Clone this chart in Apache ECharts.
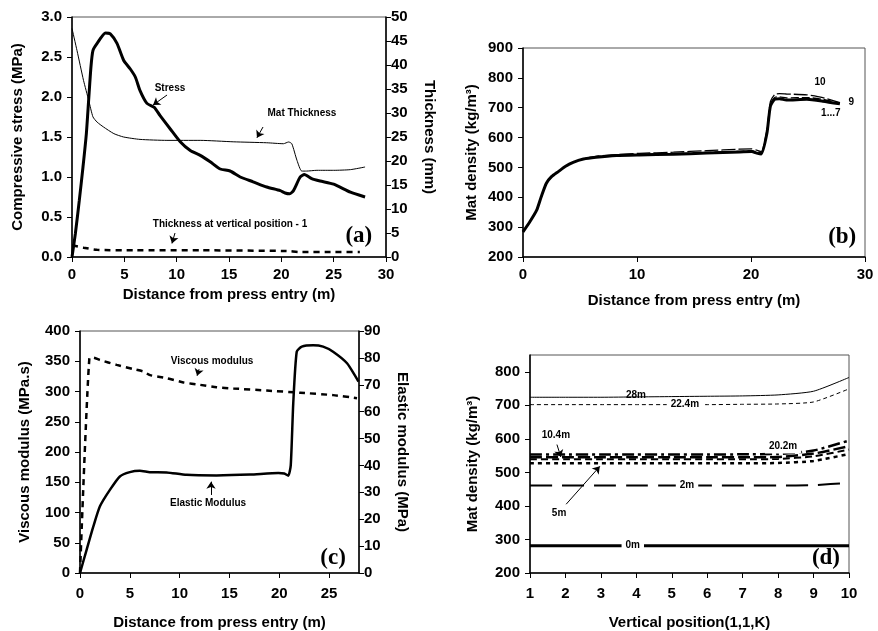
<!DOCTYPE html>
<html>
<head>
<meta charset="utf-8">
<script src="https://cdn.jsdelivr.net/npm/echarts@6/dist/echarts.min.js"></script>
<style>html,body{margin:0;padding:0;background:#fff}#c{width:878px;height:631px}</style>
</head>
<body>
<div id="c"></div>
<script>
// ---------- Panel (a) ----------
const aStressX = [0,0.32,0.7,1.05,1.37,1.59,1.81,2.0,2.4,3.2,3.66,4.3,4.93,5.57,6.05,6.5,7.16,7.86,8.4,9.39,10.34,11.3,12.25,13.2,14.16,15.1,16.07,17.3,18.6,19.9,20.36,20.8,21.16,21.8,22.2,22.9,23.7,25.0,26.6,28.0];
const aStress  = [0,0.29,0.71,1.125,1.54,1.96,2.375,2.58,2.67,2.80,2.79,2.67,2.46,2.35,2.25,2.08,1.92,1.87,1.77,1.6,1.44,1.33,1.27,1.19,1.10,1.075,1.0,0.94,0.875,0.83,0.8,0.79,0.83,1.0,1.03,0.98,0.95,0.91,0.81,0.75];
const aMatX = [0,0.48,1.1,1.6,2.0,2.4,3.0,4.0,4.93,6.5,9.07,12.25,15.4,18.6,20.2,20.7,21.0,21.5,21.95,22.4,23.4,25,26.6,28];
const aMat  = [47.6,43,36.8,32.6,29.2,28.1,27.1,25.7,25.0,24.5,24.3,24.3,24.0,23.8,23.6,23.96,23.6,20.1,17.9,17.9,18.06,18.06,18.2,18.75];
const aVpX = [0,1.1,2.4,5.9,12.25,20.5,21.8,25,27.5];
const aVp  = [2.43,1.94,1.5,1.39,1.39,1.25,1.04,1.04,1.04];

// ---------- Panel (b) ----------
const bX    = [0,0.6,1.2,1.6,2.05,2.5,3.1,3.7,4.4,5.3,6.4,8.2,10.2,13.2,16.1,19,20.05,20.5,20.9,21.4,21.7,22.1,22.5,23.1,24.9,26.3,27.8];
const b1to7 = [284,318,357,402,447,469,486,503,517,528,534,540,542,544,548,552,553,548,545,615,705,729,730,726,728,722,713];
const b9    = [284,318,357,402,447,469,486,503,517,529,536,541,544,546,550,554,556,552,549,620,712,735,736,733,734,728,715];
const b10   = [284,318,357,402,447,469,486,503,517,529,537,543,547,551,556,561,562,558,553,625,720,745,747,746,743,734,717];

// ---------- Panel (c) ----------
const cViscX = [0,0.94,1.34,2.0,3.68,5.35,6.36,7.03,8.7,10.37,12.05,13.7,15.4,18.74,22.1,25.4,27.8];
const cVisc  = [0,355,356,352,344,337,333,327,322,315,311,307,305,301.5,298,294,289];
const cElX = [0,0.67,1.34,2.0,3.0,4.0,5.0,6.0,7.0,8.7,10.7,13.7,17.07,19.9,20.5,20.9,21.15,21.4,21.75,22.26,23.4,24.4,25.4,26.8,27.95];
const cEl  = [0,8.7,17.3,24.8,30.9,35.9,37.5,38.0,37.5,37.4,36.5,36.3,36.6,37.2,37.0,36.2,40,63,82.3,84.2,84.7,84.2,82.3,78,71.2];

// ---------- Panel (d) ----------
const dK    = [1,2,3,4,5,6,7,8,9,10];
const d0m   = [281,281,281,281,281,281,281,281,281,281];
const d2m   = [461,461,461,461,461,461,461,461,462,469];
const d5m   = [527,527,527,527,527,527,527,528,534,555];
const d10m  = [539,539,539,539,539,539,539,540,548,568];
const d15m  = [545,545,545,545,545,545,545,546,556,578];
const d20m  = [553,553,553,553,553,553,554,555,565,595];
const d22m  = [702,702,702,702,702,702,703,704,710,749];
const d28m  = [724,724,724,725,726,727,728,731,742,783];

const FONT = 'Liberation Sans, Arial, Helvetica, sans-serif';
const SERIF = 'Liberation Serif, Times New Roman, serif';
const zip = (xs, ys) => xs.map((x, i) => [x, ys[i]]);

function notes(items) {
  return {
    silent: true, animation: false, symbol: 'rect', symbolSize: 1,
    itemStyle: { color: 'rgba(0,0,0,0)' },
    data: items.map(n => ({
      coord: [n.x, n.y], name: n.t,
      label: Object.assign({ show: true, position: 'inside', formatter: '{b}', color: '#000',
        fontSize: 10, fontWeight: 'bold', fontFamily: FONT }, n.style || {})
    }))
  };
}
function arrows(list) {
  return {
    silent: true, animation: false, symbol: ['none', 'arrow'], symbolSize: 7,
    lineStyle: { color: '#000', width: 1, type: 'solid' },
    itemStyle: { color: '#000' },
    label: { show: false }, emphasis: { disabled: true },
    data: list.map(a => [{ coord: [a[0], a[1]] }, { coord: [a[2], a[3]] }])
  };
}
const panelTag = { fontFamily: SERIF, fontSize: 23, fontWeight: 'bold' };
const white = { backgroundColor: '#fff', padding: [2, 4] };

function axisBase(extra) {
  return Object.assign({
    type: 'value', nameLocation: 'middle',
    axisLine: { show: true, onZero: false, lineStyle: { color: '#000', width: 1.5 } },
    axisTick: { show: true, inside: false, length: 5, lineStyle: { color: '#000', width: 1 } },
    axisLabel: { color: '#000', fontSize: 15, fontWeight: 'bold', fontFamily: FONT, margin: 10 },
    splitLine: { show: false },
    nameTextStyle: { color: '#000', fontSize: 15, fontWeight: 'bold', fontFamily: FONT }
  }, extra);
}

const grids = [
  { left: 72, top: 17, width: 314, height: 240 },
  { left: 523, top: 48, width: 342, height: 209 },
  { left: 80, top: 331, width: 279, height: 242 },
  { left: 530, top: 355, width: 319, height: 219 }
].map(g => Object.assign(g, { show: true, borderColor: '#555', borderWidth: 1 }));

const xAxes = [
  axisBase({ gridIndex: 0, min: 0, max: 30, interval: 5, name: 'Distance from press entry (m)', nameGap: 30 }),
  axisBase({ gridIndex: 1, min: 0, max: 30, interval: 10, name: 'Distance from press entry (m)', nameGap: 36 }),
  axisBase({ gridIndex: 2, min: 0, max: 28, interval: 5, name: 'Distance from press entry (m)', nameGap: 42 }),
  axisBase({ gridIndex: 3, min: 1, max: 10, interval: 1, name: 'Vertical position(1,1,K)', nameGap: 42 })
];
xAxes[2].axisLabel = Object.assign({}, xAxes[2].axisLabel, { showMaxLabel: false, margin: 13 });
xAxes[3].axisLabel = Object.assign({}, xAxes[3].axisLabel, { margin: 13 });

const yAxes = [
  axisBase({ gridIndex: 0, min: 0, max: 3, interval: 0.5, name: 'Compressive stress (MPa)', nameGap: 47 }),
  axisBase({ gridIndex: 0, position: 'right', min: 0, max: 50, interval: 5, name: 'Thickness (mm)', nameGap: 36, nameRotate: -90 }),
  axisBase({ gridIndex: 1, min: 200, max: 900, interval: 100, name: 'Mat density (kg/m³)', nameGap: 44 }),
  axisBase({ gridIndex: 2, min: 0, max: 400, interval: 50, name: 'Viscous modulus (MPa.s)', nameGap: 48 }),
  axisBase({ gridIndex: 2, position: 'right', min: 0, max: 90, interval: 10, name: 'Elastic modulus (MPa)', nameGap: 36, nameRotate: -90 }),
  axisBase({ gridIndex: 3, min: 200, max: 850, interval: 100, name: 'Mat density (kg/m³)', nameGap: 50 })
];
yAxes[0].axisLabel = Object.assign({}, yAxes[0].axisLabel, { formatter: v => v.toFixed(1) });
yAxes[1].axisLabel = Object.assign({}, yAxes[1].axisLabel, { margin: 5 });
yAxes[4].axisLabel = Object.assign({}, yAxes[4].axisLabel, { margin: 5 });
yAxes[5].axisLabel = Object.assign({}, yAxes[5].axisLabel, { showMaxLabel: false });

function line(xi, yi, data, style, extra) {
  return Object.assign({
    type: 'line', xAxisIndex: xi, yAxisIndex: yi, data: data, showSymbol: false, symbol: 'none',
    smooth: 0.2, silent: true, animation: false,
    lineStyle: Object.assign({ color: '#000', width: 1 }, style)
  }, extra || {});
}

const series = [
  // (a)
  line(0, 0, zip(aStressX, aStress), { width: 3 }, {
    markPoint: notes([
      { t: 'Stress', x: 9.36, y: 2.11 },
      { t: 'Mat Thickness', x: 21.97, y: 1.8 },
      { t: 'Thickness at vertical position - 1', x: 15.1, y: 0.41 },
      { t: '(a)', x: 27.4, y: 0.26, style: panelTag }
    ]),
    markLine: arrows([[9.08, 2.025, 7.74, 1.9], [18.25, 1.625, 17.67, 1.49], [9.84, 0.3, 9.55, 0.17]])
  }),
  line(0, 1, zip(aMatX, aMat), { width: 1 }),
  line(0, 1, zip(aVpX, aVp), { width: 2.5, type: [6, 5] }),
  // (b)
  line(1, 2, zip(bX, b10), { width: 1.3, type: [14, 3] }),
  line(1, 2, zip(bX, b9), { width: 1.3, type: [8, 3] }),
  line(1, 2, zip(bX, b1to7), { width: 3 }, {
    markPoint: notes([
      { t: '10', x: 26.05, y: 786 },
      { t: '9', x: 28.8, y: 719 },
      { t: '1...7', x: 27.0, y: 682 },
      { t: '(b)', x: 28.0, y: 267, style: panelTag }
    ])
  }),
  // (c)
  line(2, 3, zip(cViscX, cVisc), { width: 2.5, type: [6, 5] }, {
    markPoint: notes([
      { t: 'Viscous modulus', x: 13.25, y: 350 },
      { t: 'Elastic Modulus', x: 12.85, y: 116 },
      { t: '(c)', x: 25.4, y: 25, style: panelTag }
    ]),
    markLine: arrows([[11.95, 337, 11.75, 326], [13.15, 129, 13.15, 151]])
  }),
  line(2, 4, zip(cElX, cEl), { width: 2.5 }),
  // (d)
  line(3, 5, zip(dK, d0m), { width: 3 }),
  line(3, 5, zip(dK, d2m), { width: 2, type: [22, 10] }),
  line(3, 5, zip(dK, d5m), { width: 2.5, type: [4, 4] }),
  line(3, 5, zip(dK, d10m), { width: 2, type: [7, 4] }),
  line(3, 5, zip(dK, d15m), { width: 2.5, type: [12, 4] }),
  line(3, 5, zip(dK, d20m), { width: 2.5, type: [12, 4, 3, 4] }),
  line(3, 5, zip(dK, d22m), { width: 1, type: [4, 3] }),
  line(3, 5, zip(dK, d28m), { width: 1 }, {
    z: 5,
    markPoint: notes([
      { t: '28m', x: 3.99, y: 731, style: white },
      { t: '22.4m', x: 5.37, y: 702, style: white },
      { t: '10.4m', x: 1.73, y: 610 },
      { t: '20.2m', x: 8.14, y: 577, style: white },
      { t: '2m', x: 5.43, y: 462, style: white },
      { t: '5m', x: 1.82, y: 378 },
      { t: '0m', x: 3.9, y: 282, style: white },
      { t: '(d)', x: 9.35, y: 245, style: panelTag }
    ]),
    markLine: arrows([[1.76, 583, 1.87, 546], [2.02, 405, 2.97, 518]])
  })
];

const chart = echarts.init(document.getElementById('c'), null, { renderer: 'canvas' });
chart.setOption({
  animation: false, backgroundColor: '#fff',
  grid: grids, xAxis: xAxes, yAxis: yAxes, series: series
});
</script>
</body>
</html>
